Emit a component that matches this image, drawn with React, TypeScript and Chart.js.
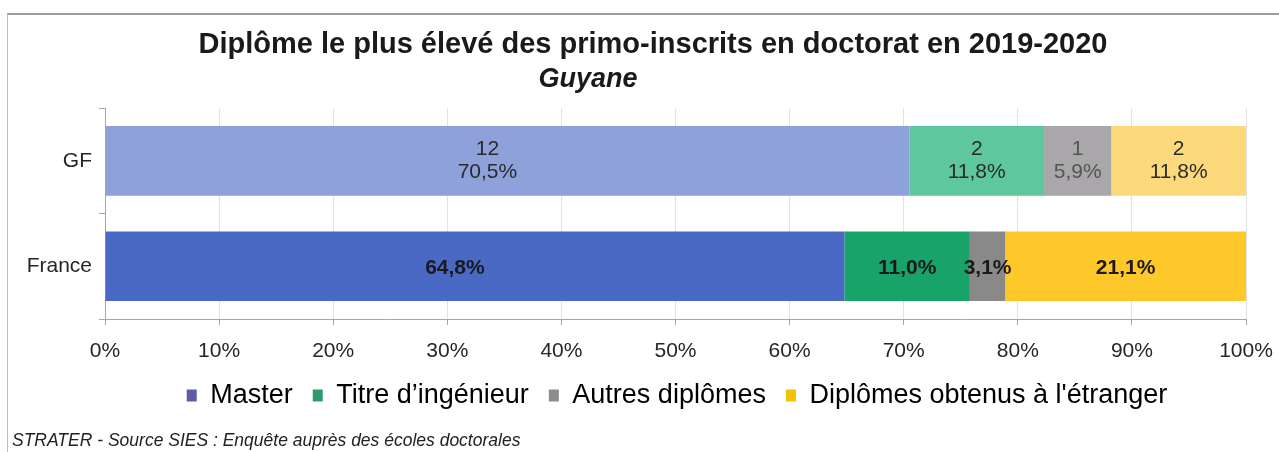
import React, { useEffect, useRef } from "react";
import { Chart, registerables } from "chart.js";

Chart.register(...registerables);

// ---- Data ----
const categories = ["GF", "France"];
const seriesNames = [
  "Master",
  "Titre d’ingénieur",
  "Autres diplômes",
  "Diplômes obtenus à l'étranger",
];
const master = [70.5, 64.8];
const ingenieur = [11.8, 11.0];
const autres = [5.9, 3.1];
const etranger = [11.8, 21.1];
const gfCounts = [12, 2, 1, 2];
const xTickValues = [0, 10, 20, 30, 40, 50, 60, 70, 80, 90, 100];

const titleText = "Diplôme le plus élevé des primo-inscrits en doctorat en 2019-2020";
const subtitleText = "Guyane";
const footerText = "STRATER - Source SIES : Enquête auprès des écoles doctorales";

// ---- Styles ----
const FONT = '"Liberation Sans", Arial, sans-serif';
const barColors = [
  ["#8EA1DB", "#4A69C5"],
  ["#5EC79B", "#18A469"],
  ["#A9A7A9", "#898989"],
  ["#FCDA7C", "#FFC82A"],
];
const legendColors = ["#5E5CA8", "#2F9B6C", "#8C8C8C", "#F2C200"];
const seriesValues = [master, ingenieur, autres, etranger];

const fmtPct = (v: number) => v.toFixed(1).replace(".", ",") + "%";

const labelPlugin = {
  id: "barLabels",
  afterDatasetsDraw(chart: any) {
    const c = chart.ctx;
    c.save();
    c.textAlign = "center";
    c.textBaseline = "middle";
    chart.data.datasets.forEach((ds: any, di: number) => {
      const meta = chart.getDatasetMeta(di);
      meta.data.forEach((el: any, i: number) => {
        const v = ds.data[i] as number;
        const cx = (el.x + el.base) / 2 + (di === 0 ? -20 : 0);
        const cy = el.y;
        if (i === 0) {
          c.font = `21px ${FONT}`;
          c.fillStyle = di === 2 ? "#555555" : "#2a2a2a";
          c.fillText(String(gfCounts[di]), cx, cy - 12);
          c.fillText(fmtPct(v), cx, cy + 11);
        } else {
          c.font = `bold 21px ${FONT}`;
          c.fillStyle = "#1a1a1a";
          c.fillText(fmtPct(v), cx, cy + 2);
        }
      });
    });
    c.restore();
  },
};

const shiftPlugin = {
  id: "boxShift",
  afterLayout(chart: any) {
    chart.boxes.forEach((b: any) => {
      if (b.options && b.options.text === titleText) {
        b.left += 30;
        b.right += 30;
      } else if (b.options && b.options.text === subtitleText) {
        b.left -= 35;
        b.right -= 35;
      }
    });
    if (chart.legend) {
      chart.legend.left += 54;
      chart.legend.right += 54;
    }
  },
};

export default function App() {
  const ref = useRef<HTMLCanvasElement>(null);

  useEffect(() => {
    if (!ref.current) return;
    const chart = new Chart(ref.current, {
      type: "bar",
      data: {
        labels: categories,
        datasets: seriesNames.map((name, k) => ({
          label: name,
          data: seriesValues[k],
          backgroundColor: barColors[k],
          borderWidth: 0,
          barPercentage: 0.66,
          categoryPercentage: 1,
        })),
      },
      options: {
        indexAxis: "y",
        responsive: false,
        animation: false,
        devicePixelRatio: 1,
        layout: { padding: { top: 0, left: 0, right: 33, bottom: 33 } },
        scales: {
          x: {
            type: "linear",
            stacked: true,
            min: 0,
            max: 100,
            afterBuildTicks: (s: any) => {
              s.ticks = xTickValues.map((v) => ({ value: v }));
            },
            afterFit: (s: any) => {
              s.height = 43;
              s.paddingLeft = 0;
              s.paddingRight = 0;
            },
            ticks: {
              callback: (v: any) => v + "%",
              font: { family: FONT, size: 21 },
              color: "#262626",
              padding: 14,
              maxRotation: 0,
            },
            grid: { color: "#e2e2e2", tickLength: 6, tickColor: "#a6a6a6" },
            border: { color: "#a6a6a6" },
          },
          y: {
            stacked: true,
            afterFit: (s: any) => {
              s.width = 105;
            },
            ticks: {
              font: { family: FONT, size: 21 },
              color: "#262626",
              padding: 7,
            },
            grid: {
              drawOnChartArea: false,
              tickLength: 6,
              offset: true,
              tickColor: "#a6a6a6",
            },
            border: { color: "#a6a6a6" },
          },
        },
        plugins: {
          title: {
            display: true,
            text: titleText,
            color: "#1a1a1a",
            font: { family: FONT, size: 29, weight: "bold" },
            padding: { top: 28, bottom: 0 },
          },
          subtitle: {
            display: true,
            text: subtitleText,
            color: "#1a1a1a",
            font: { family: FONT, size: 27, weight: "bold", style: "italic" },
            padding: { top: 1, bottom: 12 },
          },
          legend: {
            position: "bottom",
            labels: {
              boxWidth: 10,
              boxHeight: 12,
              padding: 20,
              color: "#262626",
              font: { family: FONT, size: 27 },
              generateLabels: () =>
                seriesNames.map((n, k) => ({
                  text: n,
                  fillStyle: legendColors[k],
                  strokeStyle: legendColors[k],
                  lineWidth: 0,
                  hidden: false,
                  datasetIndex: k,
                })),
            },
          },
          tooltip: { enabled: false },
        },
      },
      plugins: [labelPlugin, shiftPlugin],
    } as any);
    return () => chart.destroy();
  }, []);

  return (
    <div
      style={{
        position: "absolute",
        left: 0,
        top: 0,
        width: 1279,
        height: 452,
        background: "#ffffff",
        overflow: "hidden",
      }}
    >
      <div
        style={{
          position: "absolute",
          left: 7,
          top: 13,
          right: 0,
          bottom: 0,
          borderTop: "2px solid #9c9c9c",
          borderLeft: "1px solid #bdbdbd",
        }}
      />
      <canvas
        ref={ref}
        width={1279}
        height={452}
        style={{ position: "absolute", left: 0, top: 0 }}
      />
      <div
        style={{
          position: "absolute",
          left: 12,
          top: 430,
          font: `italic 17.5px ${FONT}`,
          color: "#222222",
          whiteSpace: "nowrap",
        }}
      >
        {footerText}
      </div>
    </div>
  );
}
